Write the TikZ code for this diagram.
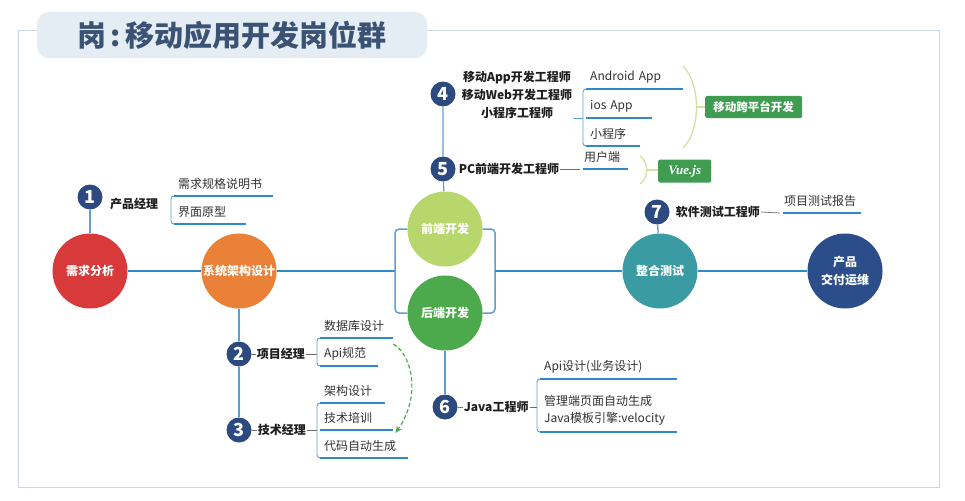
\documentclass[tikz,border=0pt]{standalone}
\usepackage{fontspec}
\setmainfont{Noto Sans CJK SC}
\newfontfamily\vuefont{Liberation Serif}
\usetikzlibrary{arrows.meta,positioning}
\definecolor{mapRed}{RGB}{216, 57, 59}
\definecolor{mapOrange}{RGB}{233, 129, 57}
\definecolor{mapLightGreen}{RGB}{183, 214, 108}
\definecolor{mapGreen}{RGB}{76, 169, 76}
\definecolor{mapTeal}{RGB}{58, 155, 162}
\definecolor{mapNavy}{RGB}{43, 78, 139}
\definecolor{mapBadge}{RGB}{44, 74, 127}
\definecolor{mapBlue}{RGB}{48, 137, 201}
\definecolor{mapBracket}{RGB}{94, 158, 210}
\definecolor{mapTag}{RGB}{63, 156, 80}
\definecolor{mapBrace}{RGB}{210, 226, 166}
\definecolor{mapFrame}{RGB}{202, 214, 225}
\definecolor{mapTitleFill}{RGB}{228, 236, 244}
\definecolor{mapTitleText}{RGB}{58, 82, 116}
\definecolor{mapTextDark}{RGB}{30, 30, 30}
\definecolor{mapText}{RGB}{50, 50, 50}
\definecolor{mapGrey}{RGB}{110, 110, 110}

\begin{document}
\begin{tikzpicture}[
  x=1pt,y=-1pt,
  stagenode/.style={
    circle,
    minimum size=75pt,
    inner sep=0pt,
    align=center,
    text=white,
    font=\bfseries\fontsize{12}{18}\selectfont
  },
  badgenode/.style={circle,fill=mapBadge,minimum size=25pt,inner sep=0pt,
    text=white,font=\bfseries\fontsize{18}{18}\selectfont},
  rolelabel/.style={inner sep=1pt,text=mapTextDark,
    font=\bfseries\fontsize{12}{18}\selectfont},
  itemnode/.style={anchor=south west,text width=#1,inner xsep=7pt,inner ysep=6pt,
    align=left,text=mapText,font=\fontsize{12}{17}\selectfont},
  underline/.style={mapBlue,line width=1.8pt},
  bracketline/.style={mapBracket,line width=0.9pt,rounded corners=3pt},
  badgelink/.style={mapBracket,line width=1.3pt},
  shortlink/.style={mapGrey,line width=0.7pt},
  mainline/.style={mapBlue,line width=2.4pt},
  splitline/.style={mapBracket,line width=1.5pt,rounded corners=4pt},
  braceline/.style={mapBrace,line width=1.3pt},
  tagbox/.style={fill=mapTag,rounded corners=2pt,text=white,minimum height=22pt,
    inner xsep=6pt,font=\bfseries\fontsize{11.5}{14}\selectfont}
]
  % page, frame and title
  \fill[white] (0,0) rectangle (965,500);
  \draw[mapFrame,line width=0.8pt] (18,30) rectangle (939,487);
  \node[fill=mapTitleFill,rounded corners=12pt,minimum width=390pt,minimum height=46pt,
    text=mapTitleText,font=\bfseries\fontsize{29}{29}\selectfont] (title)
    at (232,35) {岗\,:\,移动应用开发岗位群};

  % stages
  \node[stagenode,fill=mapRed] (needs) at (90,271) {需求分析};
  \node[stagenode,fill=mapOrange] (arch) at (239,271) {系统架构设计};
  \node[stagenode,fill=mapLightGreen] (front) at (445,229) {前端开发};
  \node[stagenode,fill=mapGreen] (back) at (445,313) {后端开发};
  \node[stagenode,fill=mapTeal] (integ) at (660,271) {整合测试};
  \node[stagenode,fill=mapNavy] (deliver) at (845,271) {产品\\交付运维};
  \coordinate (splitL) at (395,271);
  \coordinate (splitR) at (495,271);
  \draw[mainline] (needs) -- (arch);
  \draw[mainline] (arch) -- (splitL);
  \draw[splitline] (front.west) -| (splitL) |- (back.west);
  \draw[splitline] (front.east) -| (splitR) |- (back.east);
  \draw[mainline] (splitR) -- (integ);
  \draw[mainline] (integ) -- (deliver);

  % roles
  \node[badgenode] (b1) at (90,197) {1};
  \node[badgenode] (b2) at (239,354) {2};
  \node[badgenode] (b3) at (239,430) {3};
  \node[badgenode] (b4) at (443,94) {4};
  \node[badgenode] (b5) at (443,169) {5};
  \node[badgenode] (b6) at (445,407) {6};
  \node[badgenode] (b7) at (657,212) {7};
  \draw[badgelink] (b1) -- (needs);
  \draw[badgelink] (arch) -- (b2) -- (b3);
  \draw[badgelink] (b4) -- (b5) -- (front);
  \draw[badgelink] (back) -- (b6);
  \draw[badgelink] (b7) -- (integ);

  \node[rolelabel,anchor=west] (pmProduct) at (109,204) {产品经理};
  \node[rolelabel,right=4pt of b2] (pmProject) {项目经理};
  \node[rolelabel,right=5pt of b3] (pmTech) {技术经理};
  \node[rolelabel,align=center] (mobileDev) at (517,95)
    {移动App开发工程师\\移动Web开发工程师\\小程序工程师};
  \node[rolelabel,right=2pt of b5] (pcDev) {PC前端开发工程师};
  \node[rolelabel,right=5pt of b6] (javaDev) {Java工程师};
  \node[rolelabel,right=5pt of b7] (testDev) {软件测试工程师};
  \draw[shortlink] (b2) -- (pmProject);
  \draw[shortlink] (b3) -- (pmTech);
  \draw[shortlink] (b6) -- (javaDev);

  % deliverables
  \node[itemnode=88pt] (specDoc) at (171,196) {需求规格说明书};
  \node[itemnode=61pt] (uiProto) at (171,224) {界面原型};
  \node[itemnode=62pt] (dbDesign) at (317,338) {数据库设计};
  \node[itemnode=47pt] (apiSpec) at (317,366) {Api规范};
  \node[itemnode=54pt] (archDesign) at (317,403) {架构设计};
  \node[itemnode=62pt] (training) at (317,430) {技术培训};
  \node[itemnode=77pt] (codeGen) at (317,458) {代码自动生成};
  \node[itemnode=86pt] (androidApp) at (583,89) {Android App};
  \node[itemnode=55pt] (iosApp) at (583,118) {ios App};
  \node[itemnode=43pt] (miniProg) at (583,146) {小程序};
  \node[itemnode=40pt,inner xsep=4pt] (userSide) at (580,169) {用户端};
  \node[itemnode=73pt,inner xsep=4pt] (testReport) at (780,213) {项目测试报告};
  \node[itemnode=126pt] (apiDesign) at (537,379) {Api设计(业务设计)};
  \node[itemnode=126pt] (adminGen) at (537,432)
    {管理端页面自动生成\\Java模板引擎:velocity};

  \draw[bracketline] ([xshift=8pt]specDoc.south west) -- (specDoc.south west)
    -- (uiProto.south west) -- ([xshift=8pt]uiProto.south west);
  \draw[bracketline] ([xshift=8pt]dbDesign.south west) -- (dbDesign.south west)
    -- (apiSpec.south west) -- ([xshift=8pt]apiSpec.south west);
  \draw[bracketline] ([xshift=8pt]archDesign.south west) -- (archDesign.south west)
    -- (codeGen.south west) -- ([xshift=8pt]codeGen.south west);
  \draw[bracketline] ([xshift=8pt]androidApp.south west) -- (androidApp.south west)
    -- (miniProg.south west) -- ([xshift=8pt]miniProg.south west);
  \draw[bracketline] ([xshift=8pt]apiDesign.south west) -- (apiDesign.south west)
    -- (adminGen.south west) -- ([xshift=8pt]adminGen.south west);
  \foreach \item in {specDoc,uiProto,dbDesign,apiSpec,archDesign,training,codeGen,
      androidApp,iosApp,miniProg,userSide,testReport,apiDesign,adminGen}
    \draw[underline] ([xshift=3pt]\item.south west) -- (\item.south east);

  \draw[shortlink] (pmProject.east) -- (pmProject.east -| dbDesign.west);
  \draw[shortlink] (pmTech.east) -- (training.south west);
  \draw[badgelink,line width=0.9pt] (mobileDev.east |- iosApp.south west) -- (iosApp.south west);
  \draw[shortlink] (pcDev.east) -- (userSide.south west);
  \draw[shortlink] (testDev.east) -- (testReport.south west);
  \draw[shortlink] (javaDev.east) -- (javaDev.east -| apiDesign.west);

  % frameworks
  \node[tagbox,anchor=west,minimum width=97pt] (tagMobile) at (705,107) {移动跨平台开发};
  \node[tagbox,anchor=west,minimum width=53pt,minimum height=23pt,
    font=\vuefont\bfseries\itshape\fontsize{13}{14}\selectfont] (tagVue) at (658,171) {Vue.js};
  \coordinate (braceMobile) at (696.5,107);
  \coordinate (braceVue) at (646.75,170);
  \draw[braceline] (683,66) .. controls (701,84) and (701,130) .. (683,148);
  \draw[braceline] (640,156) .. controls (649,162) and (649,178) .. (640,184);
  \draw[braceline] (braceMobile) -- (tagMobile.west);
  \draw[braceline] (braceVue) -- (braceVue -| tagVue.west);

  % code generation hint
  \draw[mapGreen,line width=1.2pt,dash pattern=on 4pt off 2.5pt,
    -{Stealth[length=7pt,width=6pt]}]
    ([yshift=-6pt]dbDesign.south east) .. controls +(20,12) and +(25,-35)
    .. ([xshift=2pt,yshift=-3pt]training.south east);
\end{tikzpicture}
\end{document}
